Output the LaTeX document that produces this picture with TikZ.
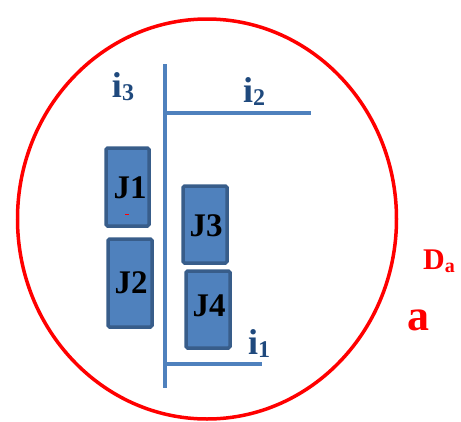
\documentclass[tikz,border=0pt]{standalone}
\usepackage{fontspec}
\usetikzlibrary{shapes.geometric}
\setmainfont{Liberation Serif}
\definecolor{boxfill}{HTML}{4F81BD}
\definecolor{boxedge}{HTML}{385D8A}
\definecolor{lbl}{HTML}{1F497D}
\definecolor{redc}{HTML}{FF0000}
\newcommand{\mysub}[2]{\raisebox{-#1}{\fontsize{#2}{#2}\selectfont}}
\newcommand{\isub}[1]{i\raisebox{-3pt}{\fontsize{24}{24}\selectfont #1}}
\begin{document}
\begin{tikzpicture}[x=1pt,y=-1pt,
  jbox/.style={draw=boxedge,fill=boxfill,line width=3.5pt,rounded corners=1.5pt,inner sep=0pt},
  jtext/.style={font=\bfseries\fontsize{33}{33}\selectfont,text=black},
  bar/.style={draw=boxfill,line width=4.5pt},
  ilab/.style={font=\bfseries\fontsize{36}{36}\selectfont,text=lbl,inner sep=0pt}]
\useasboundingbox (0,0) rectangle (461,421);
\node[draw=redc,line width=3.5pt,ellipse,minimum width=379pt,minimum height=400pt,inner sep=0pt] (ell) at (207,219) {};
% boxes
\draw[jbox] (106,148) rectangle (149,226);
\draw[jbox] (108,239) rectangle (152,327);
\draw[jbox] (183,186) rectangle (227,263);
\draw[jbox] (186,271) rectangle (230,348);
\node[jtext] (j1) at (130,188) {J1};
\node[jtext] (j2) at (131,283) {J2};
\node[jtext] (j3) at (206,226) {J3};
\node[jtext] (j4) at (209,306) {J4};
\draw[redc,line width=1pt] (125,214) -- (129,214);
% bars
\coordinate (vt) at (165,64);
\coordinate (vb) at (165,388);
\coordinate (h2a) at (165,113);
\coordinate (h2b) at (311,113);
\coordinate (h1a) at (165,364);
\coordinate (h1b) at (262,364);
\draw[bar] (vt) -- (vb);
\draw[bar] (h2a) -- (h2b);
\draw[bar] (h1a) -- (h1b);
% labels
\node[ilab] (i3) at (123,87) {\isub{3}};
\node[ilab] (i2) at (254,92) {\isub{2}};
\node[ilab] (i1) at (259,344) {\isub{1}};
\node[font=\bfseries\fontsize{30}{30}\selectfont,text=redc,inner sep=0pt] (da) at (439,261) {D\raisebox{-3pt}{\fontsize{20}{20}\selectfont a}};
\node[font=\bfseries\fontsize{44}{44}\selectfont,text=redc,inner sep=0pt] (a) at (418,320) {a};
\end{tikzpicture}
\end{document}
